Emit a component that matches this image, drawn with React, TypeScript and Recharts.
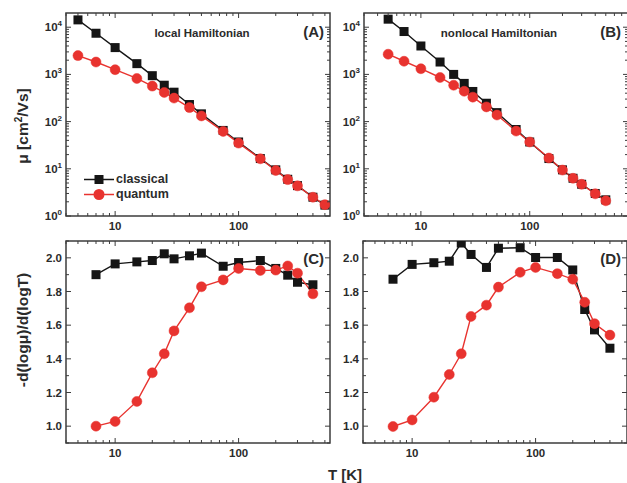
import { LineChart, Line, XAxis, YAxis, ReferenceArea, Legend } from "recharts";

// temperatures (K) of the mobility runs and of the slope points
const temps = [5, 7, 10, 15, 20, 25, 30, 40, 50, 75, 100, 150, 200, 250, 300, 400, 500];
const slopeTemps = [7, 10, 15, 20, 25, 30, 40, 50, 75, 100, 150, 200, 250, 300, 400];

// mobility, cm^2/Vs
const localClassical = [14300, 7450, 3700, 1690, 940, 590, 420, 230, 146, 65, 37, 16.5, 9.5, 6.0, 4.4, 2.5, 1.7];
const localQuantum = [2500, 1830, 1260, 820, 565, 415, 315, 198, 132, 62, 35, 16.3, 9.2, 5.9, 4.35, 2.5, 1.74];
const nonlocalClassical = [14800, 8100, 4000, 1830, 1000, 645, 435, 245, 155, 68, 37, 16.5, 9.5, 6.3, 4.7, 3.0, 2.2];
const nonlocalQuantum = [2680, 1900, 1320, 860, 590, 440, 330, 205, 138, 63, 37, 16.9, 9.4, 6.3, 4.7, 2.95, 2.1];

// -d(log mu)/d(log T)
const localSlopeClassical = [1.9, 1.964, 1.976, 1.984, 2.024, 1.994, 2.012, 2.028, 1.95, 1.972, 1.984, 1.937, 1.897, 1.855, 1.84];
const localSlopeQuantum = [1.0, 1.028, 1.147, 1.317, 1.43, 1.566, 1.703, 1.828, 1.869, 1.937, 1.925, 1.927, 1.952, 1.909, 1.786];
const nonlocalSlopeClassical = [1.873, 1.961, 1.971, 1.98, 2.088, 2.02, 1.943, 2.057, 2.06, 2.002, 2.002, 1.928, 1.693, 1.572, 1.463];
const nonlocalSlopeQuantum = [0.998, 1.037, 1.172, 1.307, 1.43, 1.652, 1.719, 1.826, 1.914, 1.943, 1.906, 1.873, 1.736, 1.609, 1.541];

// axis ticks
const tMajor = [10, 100];
const muMajor = [1, 10, 100, 1000, 10000];
const slopeMajor = [1.0, 1.2, 1.4, 1.6, 1.8, 2.0];
const slopeMinor = [0.9, 1.1, 1.3, 1.5, 1.7, 1.9, 2.1];

const FONT = '"Liberation Sans", Arial, Helvetica, sans-serif';
const INK = "#2b2b2b";
const FRAME = "#3c3c3c";
const BLACK = "#151515";
const RED = "#e8332f";

const logTicks = (lo: number, hi: number) => {
  const out: number[] = [];
  for (let d = 1; d <= 10000; d *= 10) {
    for (let m = 1; m < 10; m++) {
      const v = m * d;
      if (v >= lo && v <= hi) out.push(v);
    }
  }
  return out;
};

const rows = (xs: number[], a: number[], b: number[]) =>
  xs.map((T, i) => ({ T, classical: a[i], quantum: b[i] }));

type Geom = { top: number; right: number };

const makeXTick = (g: Geom) => (props: any) => {
  const { x, y, payload } = props;
  const v = payload.value;
  const major = tMajor.includes(v);
  const len = major ? 5 : 3;
  return (
    <g>
      <line x1={x} x2={x} y1={y} y2={y - len} stroke={FRAME} strokeWidth={1} />
      <line x1={x} x2={x} y1={g.top} y2={g.top + len} stroke={FRAME} strokeWidth={1} />
      {major && (
        <text x={x} y={y + 14} textAnchor="middle" fontSize={11.5} fontWeight="bold" fill={INK} fontFamily={FONT}>
          {v}
        </text>
      )}
    </g>
  );
};

const makeYTick = (g: Geom, log: boolean) => (props: any) => {
  const { x, y, payload } = props;
  const v = payload.value;
  const major = log
    ? muMajor.includes(v)
    : slopeMajor.some((m) => Math.abs(m - v) < 1e-6);
  const len = major ? 5 : 3;
  return (
    <g>
      <line x1={x} x2={x + len} y1={y} y2={y} stroke={FRAME} strokeWidth={1} />
      <line x1={g.right} x2={g.right - len} y1={y} y2={y} stroke={FRAME} strokeWidth={1} />
      {major && (
        <text x={x - 4} y={y + 4} textAnchor="end" fontSize={11.5} fontWeight="bold" fill={INK} fontFamily={FONT}>
          {log ? (
            <>
              <tspan>10</tspan>
              <tspan dy={-5} fontSize={8}>
                {Math.round(Math.log10(v))}
              </tspan>
            </>
          ) : (
            v.toFixed(1)
          )}
        </text>
      )}
    </g>
  );
};

const squareDot = (p: any) => (
  <rect key={`sq-${p.index}`} x={p.cx - 4.5} y={p.cy - 4.5} width={9} height={9} fill={BLACK} />
);

const LegendBox = () => (
  <div style={{ fontFamily: FONT, fontWeight: "bold", fontSize: 12.5, color: INK, lineHeight: "15px" }}>
    <div style={{ display: "flex", alignItems: "center" }}>
      <svg width={32} height={15}>
        <line x1={0} x2={30} y1={7.5} y2={7.5} stroke={BLACK} strokeWidth={1.5} />
        <rect x={10.5} y={3} width={9} height={9} fill={BLACK} />
      </svg>
      <span>classical</span>
    </div>
    <div style={{ display: "flex", alignItems: "center" }}>
      <svg width={32} height={15}>
        <line x1={0} x2={30} y1={7.5} y2={7.5} stroke={RED} strokeWidth={1.5} />
        <circle cx={15} cy={7.5} r={5.5} fill={RED} />
      </svg>
      <span>quantum</span>
    </div>
  </div>
);

type PanelProps = {
  left: number;
  top: number;
  axisW: number;
  marginTop: number;
  plotW: number;
  plotH: number;
  data: { T: number; classical: number; quantum: number }[];
  xDomain: [number, number];
  log: boolean;
  legend?: boolean;
};

function Panel({ left, top, axisW, marginTop, plotW, plotH, data, xDomain, log, legend }: PanelProps) {
  const g: Geom = { top: marginTop, right: axisW + plotW };
  const yDomain: [number, number] = log ? [1, 20000] : [0.9, 2.1];
  const xTicks = logTicks(xDomain[0], xDomain[1]);
  const yTicks = log
    ? logTicks(1, 19999)
    : [...slopeMajor, ...slopeMinor].sort((a, b) => a - b);
  return (
    <div style={{ position: "absolute", left, top }}>
      <LineChart
        width={axisW + plotW + 2}
        height={marginTop + plotH + 24}
        data={data}
        margin={{ top: marginTop, right: 2, bottom: 0, left: 0 }}
      >
        <XAxis
          dataKey="T"
          type="number"
          scale="log"
          domain={xDomain}
          allowDataOverflow
          ticks={xTicks}
          interval={0}
          height={24}
          axisLine={false}
          tickLine={false}
          tickSize={0}
          tickMargin={0}
          tick={makeXTick(g)}
        />
        <YAxis
          type="number"
          scale={log ? "log" : "linear"}
          domain={yDomain}
          allowDataOverflow
          ticks={yTicks}
          interval={0}
          width={axisW}
          axisLine={false}
          tickLine={false}
          tickSize={0}
          tickMargin={0}
          tick={makeYTick(g, log)}
        />
        <ReferenceArea
          x1={xDomain[0]}
          x2={xDomain[1]}
          y1={yDomain[0]}
          y2={yDomain[1]}
          fill="none"
          stroke={FRAME}
          strokeWidth={1.5}
          ifOverflow="visible"
        />
        <Line
          dataKey="classical"
          stroke={BLACK}
          strokeWidth={1.4}
          dot={squareDot}
          isAnimationActive={false}
        />
        <Line
          dataKey="quantum"
          stroke={RED}
          strokeWidth={1.4}
          dot={{ r: 5, fill: RED, stroke: RED, strokeWidth: 0.5 }}
          isAnimationActive={false}
        />
        {legend && (
          <Legend
            layout="vertical"
            align="center"
            verticalAlign="middle"
            wrapperStyle={{ left: 84, top: 172, width: "auto" }}
            content={() => <LegendBox />}
          />
        )}
      </LineChart>
    </div>
  );
}

const txt = { fontFamily: FONT, fontWeight: "bold" as const, fill: INK };

export default function App() {
  return (
    <div
      style={{
        position: "absolute",
        left: 0,
        top: 0,
        width: 627,
        height: 483,
        overflow: "hidden",
        background: "#fff",
      }}
    >
      <Panel left={0} top={0} axisW={66} marginTop={13} plotW={264} plotH={203}
        data={rows(temps, localClassical, localQuantum)} xDomain={[4, 550]} log legend />
      <Panel left={300} top={0} axisW={64} marginTop={13} plotW={264} plotH={203}
        data={rows(temps, nonlocalClassical, nonlocalQuantum)} xDomain={[3, 800]} log />
      <Panel left={0} top={230} axisW={66} marginTop={11} plotW={264} plotH={202}
        data={rows(slopeTemps, localSlopeClassical, localSlopeQuantum)} xDomain={[4, 550]} log={false} />
      <Panel left={300} top={230} axisW={63} marginTop={11} plotW={264} plotH={202}
        data={rows(slopeTemps, nonlocalSlopeClassical, nonlocalSlopeQuantum)} xDomain={[4, 550]} log={false} />

      <svg width={627} height={483} style={{ position: "absolute", left: 0, top: 0, pointerEvents: "none" }}>
        <text {...txt} x={202} y={37} fontSize={11.5} textAnchor="middle">local Hamiltonian</text>
        <text {...txt} x={499} y={37} fontSize={11.5} textAnchor="middle">nonlocal Hamiltonian</text>
        <text {...txt} x={324} y={37} fontSize={15} textAnchor="end">(A)</text>
        <text {...txt} x={621} y={37} fontSize={15} textAnchor="end">(B)</text>
        <text {...txt} x={324} y={264} fontSize={15} textAnchor="end">(C)</text>
        <text {...txt} x={621} y={264} fontSize={15} textAnchor="end">(D)</text>
        <text {...txt} x={0} y={0} fontSize={15.5} textAnchor="middle" transform="translate(28 126) rotate(-90)">
          μ [cm<tspan dy={-6} fontSize={10}>2</tspan>
          <tspan dy={6}>/Vs]</tspan>
        </text>
        <text {...txt} x={0} y={0} fontSize={15.5} textAnchor="middle" transform="translate(28 330) rotate(-90)">
          -d(logμ)/d(logT)
        </text>
        <text {...txt} x={345} y={480} fontSize={15} textAnchor="middle">T [K]</text>
      </svg>
    </div>
  );
}
